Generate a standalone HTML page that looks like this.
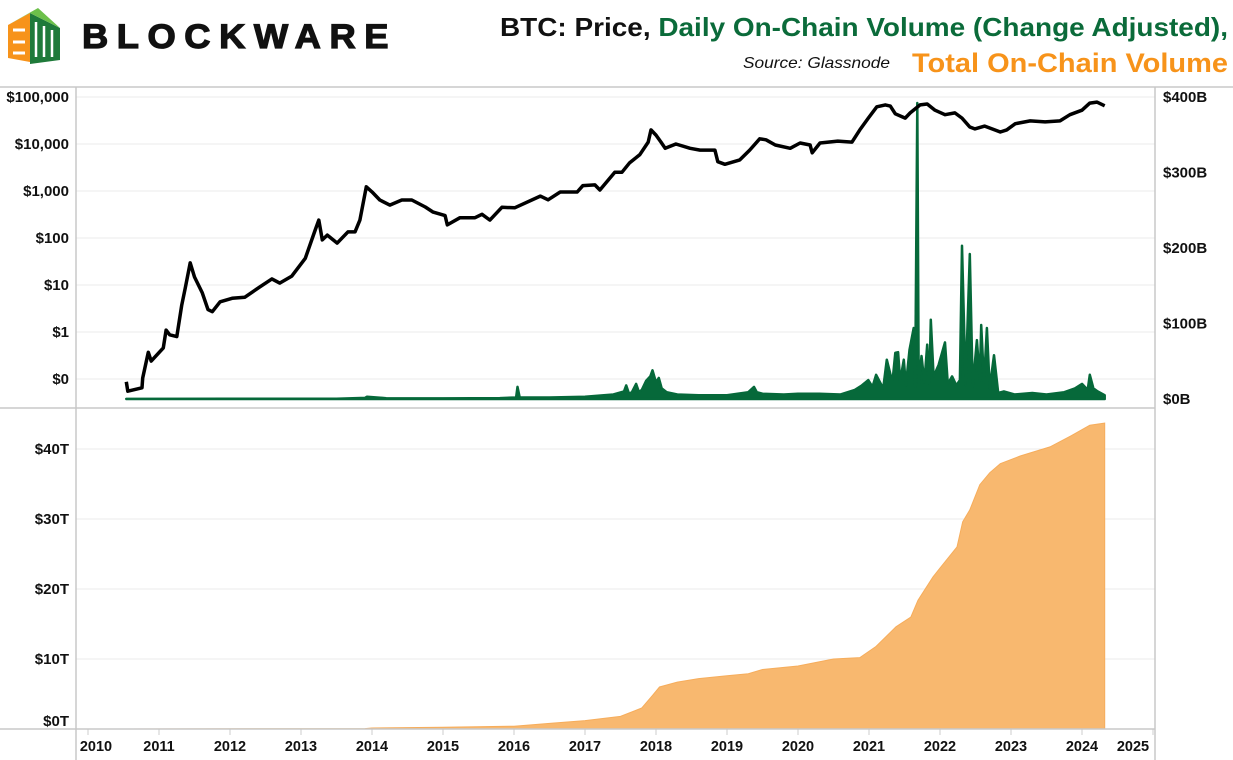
<!DOCTYPE html>
<html><head><meta charset="utf-8"><style>
html,body{margin:0;padding:0;background:#fff;}
svg{display:block;font-family:"Liberation Sans",sans-serif;}
</style></head><body>
<svg id="c" width="1233" height="760" viewBox="0 0 1233 760">
<g>
 <polygon points="8,25 30,13 30,62 8,58" fill="#f7931a"/>
 <polygon points="30,13 60,28 60,60 30,64" fill="#1f7a3a"/>
 <polygon points="8,25 38,8 60,28 30,13" fill="#6cc04a"/>
 <path d="M13,30 h12 M13,42 h12 M13,53 h12" stroke="#fff" stroke-width="3"/>
 <path d="M36,22 v35 M44,26 v31 M52,30 v27" stroke="#fff" stroke-width="2.5"/>
 <text x="82" y="48" font-size="34" font-weight="bold" textLength="315" lengthAdjust="spacingAndGlyphs" fill="#111" stroke="#111" stroke-width="1.2" letter-spacing="8">BLOCKWARE</text>
</g>
<text x="1228" y="36" text-anchor="end" font-size="26" font-weight="bold" textLength="728" lengthAdjust="spacingAndGlyphs"><tspan fill="#111">BTC: Price, </tspan><tspan fill="#0b6b3a">Daily On-Chain Volume (Change Adjusted),</tspan></text>
<text x="890" y="68" text-anchor="end" font-size="16" font-style="italic" fill="#111" textLength="147" lengthAdjust="spacingAndGlyphs">Source: Glassnode</text>
<text x="1228" y="72" text-anchor="end" font-size="27" font-weight="bold" fill="#f7931a" textLength="316" lengthAdjust="spacingAndGlyphs">Total On-Chain Volume</text>
<g id="grid"></g>
<g id="marks"></g>
<g id="axes"></g>
</svg>
<script>
// ---- data ----
const priceYears=[2010.54,2010.56,2010.76,2010.77,2010.85,2010.89,2011.06,2011.10,2011.15,2011.25,2011.32,2011.37,2011.44,2011.50,2011.61,2011.69,2011.75,2011.86,2012.03,2012.21,2012.42,2012.59,2012.70,2012.87,2013.06,2013.20,2013.25,2013.30,2013.37,2013.51,2013.66,2013.76,2013.83,2013.92,2014.00,2014.11,2014.25,2014.42,2014.56,2014.75,2014.86,2015.03,2015.06,2015.24,2015.45,2015.55,2015.66,2015.83,2016.01,2016.37,2016.48,2016.65,2016.89,2016.97,2017.14,2017.21,2017.42,2017.52,2017.63,2017.77,2017.89,2017.93,2018.00,2018.07,2018.13,2018.28,2018.48,2018.62,2018.83,2018.87,2018.97,2019.18,2019.32,2019.46,2019.55,2019.68,2019.89,2020.03,2020.17,2020.20,2020.31,2020.56,2020.76,2020.87,2020.99,2021.11,2021.23,2021.30,2021.37,2021.51,2021.58,2021.72,2021.82,2021.93,2022.07,2022.21,2022.31,2022.42,2022.49,2022.63,2022.77,2022.85,2022.94,2023.06,2023.27,2023.48,2023.69,2023.83,2024.00,2024.11,2024.21,2024.32];
const priceValues=[0.087,0.055,0.065,0.105,0.37,0.24,0.46,1.1,0.87,0.8,3.7,8.7,29.5,14.8,6.8,3.0,2.7,4.4,5.2,5.5,9.1,13.5,11,15.5,37,148,240,91,115,78,135,135,240,1230,955,645,500,645,645,457,355,300,190,270,270,320,240,450,440,780,650,950,950,1300,1350,1050,2500,2500,4000,5900,11000,20000,15500,11000,8100,10000,8100,7400,7400,4200,3700,4600,7400,12900,12300,9500,8100,10500,9500,6500,10500,11500,11000,20000,35500,62000,68000,64000,44000,35500,46000,68000,71000,52500,42000,46000,35500,23000,21000,24000,20000,18000,20000,27000,31000,29500,31000,42000,52500,74000,78000,65000];
const volYears=[2010.54,2012.0,2013.5,2013.9,2013.93,2014.2,2015.0,2015.8,2016.03,2016.05,2016.08,2016.5,2017.0,2017.4,2017.55,2017.58,2017.62,2017.66,2017.72,2017.76,2017.8,2017.86,2017.92,2017.95,2018.0,2018.04,2018.08,2018.15,2018.3,2018.6,2019.0,2019.3,2019.38,2019.42,2019.5,2019.8,2020.0,2020.3,2020.6,2020.8,2020.9,2020.99,2021.05,2021.1,2021.2,2021.25,2021.33,2021.37,2021.41,2021.44,2021.49,2021.52,2021.57,2021.63,2021.65,2021.68,2021.70,2021.74,2021.78,2021.82,2021.85,2021.87,2021.91,2021.98,2022.07,2022.11,2022.17,2022.23,2022.28,2022.31,2022.36,2022.42,2022.46,2022.52,2022.56,2022.58,2022.62,2022.66,2022.70,2022.76,2022.82,2022.9,2023.05,2023.3,2023.5,2023.75,2023.9,2024.0,2024.08,2024.11,2024.16,2024.22,2024.32];
const volValues=[0.1,0.2,0.4,1.5,3,1,0.8,1.2,2,16,2,2,3,6,10,18,7,9,20,9,12,24,30,38,22,28,14,9,6,5,5,9,16,9,7,6,7,7,6,12,18,25,16,32,14,52,22,61,62,24,52,18,65,94,16,392,18,57,22,72,20,105,30,45,75,20,30,18,25,203,18,192,16,78,25,98,22,94,14,58,8,10,6,8,6,9,14,20,12,32,14,10,5];
const totalYears=[2010.54,2013.9,2014.0,2015.0,2016.0,2016.5,2017.0,2017.5,2017.8,2017.95,2018.05,2018.3,2018.6,2019.0,2019.3,2019.5,2020.0,2020.5,2020.87,2021.1,2021.38,2021.59,2021.69,2021.9,2022.0,2022.24,2022.32,2022.42,2022.56,2022.7,2022.85,2023.13,2023.55,2023.85,2024.11,2024.32];
const totalValues=[0,0.05,0.15,0.25,0.4,0.8,1.2,1.8,3.0,4.8,6.0,6.7,7.2,7.6,7.9,8.5,9.0,10.0,10.2,11.8,14.6,16.0,18.4,21.7,23.0,26.0,29.6,31.3,34.9,36.6,37.9,39.0,40.3,41.9,43.4,43.7];
const yearTicks=[2010,2011,2012,2013,2014,2015,2016,2017,2018,2019,2020,2021,2022,2023,2024,2025];
const priceTicks=[0.1,1,10,100,1000,10000,100000];
const priceTickLabels=["$0","$1","$10","$100","$1,000","$10,000","$100,000"];
const volTicks=[0,100,200,300,400];
const volTickLabels=["$0B","$100B","$200B","$300B","$400B"];
const totalTicks=[0,10,20,30,40];
const totalTickLabels=["$0T","$10T","$20T","$30T","$40T"];

// ---- scales ----
const X=y=>88+(y-2010)*71;
const YP=v=>97+(5-Math.log10(v))*47;
const YV=v=>399-v*0.755;
const YT=v=>729-v*7;
const NS="http://www.w3.org/2000/svg";
function mk(tag,attrs,parent){const e=document.createElementNS(NS,tag);for(const k in attrs)e.setAttribute(k,attrs[k]);parent.appendChild(e);return e;}
const grid=document.getElementById('grid'),marks=document.getElementById('marks'),axes=document.getElementById('axes');

priceTicks.forEach((t,i)=>{
 const g=mk('line',{x1:76,x2:1155,y1:YP(t),y2:YP(t),stroke:'#ebebeb','stroke-width':1},grid);
 
 
 const l=mk('text',{x:69,y:YP(t)+5,'text-anchor':'end','font-size':15,'font-weight':'bold',fill:'#111'},axes);
 l.textContent=priceTickLabels[i];
 
 
});
volTicks.forEach((t,i)=>{
 const l=mk('text',{x:1163,y:YV(t)+5,'font-size':15,'font-weight':'bold',fill:'#111'},axes);
 l.textContent=volTickLabels[i];
 
 
});
totalTicks.forEach((t,i)=>{
 if(t>0){const g=mk('line',{x1:76,x2:1155,y1:YT(t),y2:YT(t),stroke:'#ebebeb','stroke-width':1},grid);
 
 }
 const off=t===0?-3:5;
 const l=mk('text',{x:69,y:YT(t)+off,'text-anchor':'end','font-size':15,'font-weight':'bold',fill:'#111'},axes);
 l.textContent=totalTickLabels[i];
 
 
});
yearTicks.forEach((t,i)=>{
 const tk=mk('line',{x1:X(t),x2:X(t),y1:729,y2:735,stroke:'#ccc'},axes);
 
 
 const cx=i===0?X(t)+8:(t===2025?X(t)-20:X(t));
 const l=mk('text',{x:cx,y:751,'text-anchor':'middle','font-size':14.5,'font-weight':'bold',fill:'#111'},axes);
 l.textContent=String(t);
 
 
});

// total area
let d='M'+X(totalYears[0])+','+YT(0);
totalYears.forEach((y,i)=>{d+=' L'+X(y).toFixed(1)+','+YT(totalValues[i]).toFixed(1);});
d+=' L'+X(totalYears[totalYears.length-1]).toFixed(1)+','+YT(0)+' Z';
const area=mk('path',{d:d,fill:'#f8b86f',stroke:'#f6ad5c','stroke-width':1},marks);



// volume
let dv='M'+X(volYears[0])+','+YV(0);
volYears.forEach((y,i)=>{dv+=' L'+X(y).toFixed(1)+','+YV(volValues[i]).toFixed(1);});
dv+=' L'+X(volYears[volYears.length-1]).toFixed(1)+','+YV(0)+' Z';
const vol=mk('path',{d:dv,fill:'#06693a',stroke:'#06693a','stroke-width':2.5,'stroke-linejoin':'round'},marks);



// price
let dp='';
priceYears.forEach((y,i)=>{dp+=(i?' L':'M')+X(y).toFixed(1)+','+YP(priceValues[i]).toFixed(1);});
const pl=mk('path',{d:dp,fill:'none',stroke:'#000','stroke-width':3.5,'stroke-linejoin':'round'},marks);



// frame lines
[[0,87,1233,87],[0,408,1155,408],[0,729,1155,729],[76,87,76,760],[1155,87,1155,760]].forEach(a=>{
 const l=mk('line',{x1:a[0],y1:a[1],x2:a[2],y2:a[3],stroke:'#c8c8c8','stroke-width':1.5},axes);
 
 
});
</script>
</body></html>
